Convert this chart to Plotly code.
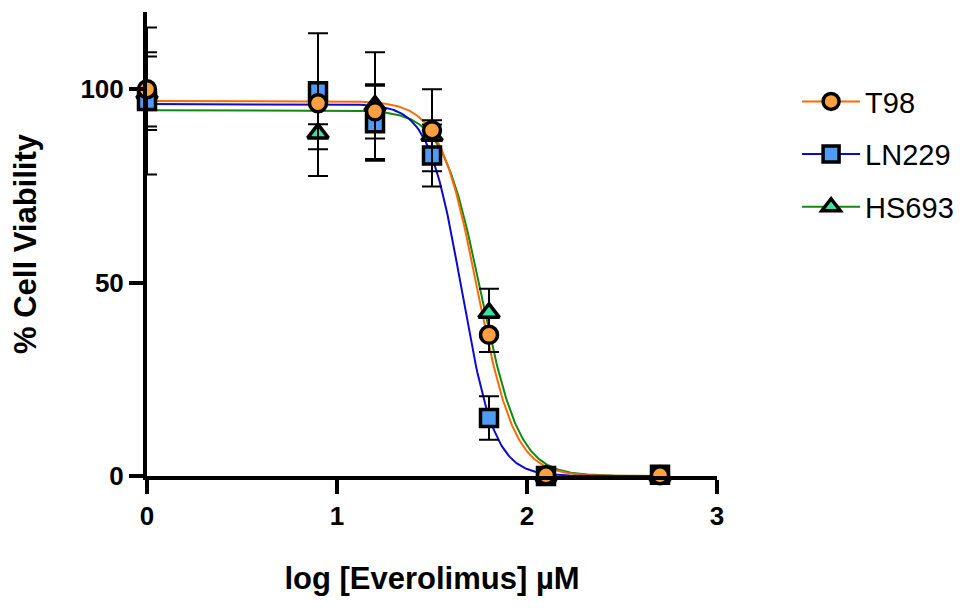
import numpy as np
import plotly.graph_objects as go

# ---- data ----
log_conc = [0, 0.9, 1.2, 1.5, 1.8, 2.1, 2.7]

t98_mean = [100, 96.4, 94.3, 89.4, 36.5, 0.2, 0.2]
t98_err = [9.6, 5.4, 7.0, 10.6, 4.4, 0, 0]

ln229_mean = [97, 99.5, 91.2, 82.9, 15.0, 0.0, 0.3]
ln229_err = [19, 15, 9.7, 8.0, 5.6, 0, 0]

hs693_mean = [99, 88.6, 95.8, 88.0, 42.2, 0.0, 0.0]
hs693_err = [9.5, 11, 13.8, 4.0, 6.2, 0, 0]

# four-parameter logistic fit parameters (top, bottom, logIC50, hill)
t98_fit = dict(top=97.0, bottom=0.0, logic50=1.738, hill=4.4)
ln229_fit = dict(top=96.2, bottom=0.0, logic50=1.656, hill=5.0)
hs693_fit = dict(top=94.6, bottom=0.0, logic50=1.758, hill=4.3)

series_names = ["T98", "LN229", "HS693"]
line_colors = {"T98": "#ff6a00", "LN229": "#0a0ad0", "HS693": "#118a11"}
fill_colors = {"T98": "#ffa040", "LN229": "#4f9bf5", "HS693": "#3de0a0"}
symbols = {"T98": "circle", "LN229": "square", "HS693": "triangle-up"}
msize = {"T98": 17, "LN229": 17, "HS693": 18}

data = {
    "T98": (t98_mean, t98_err, t98_fit),
    "LN229": (ln229_mean, ln229_err, ln229_fit),
    "HS693": (hs693_mean, hs693_err, hs693_fit),
}


def four_pl(x, p):
    x = np.asarray(x)
    return p["bottom"] + (p["top"] - p["bottom"]) / (1 + 10 ** ((x - p["logic50"]) * p["hill"]))


fig = go.Figure()

# fitted curves (behind the points)
xfit = np.linspace(min(log_conc), max(log_conc), 400)
for name in ["HS693", "T98", "LN229"]:
    p = data[name][2]
    fig.add_trace(go.Scatter(
        x=xfit, y=four_pl(xfit, p), mode="lines",
        line=dict(color=line_colors[name], width=2),
        showlegend=False, hoverinfo="skip", cliponaxis=False,
    ))

# data points with error bars
for name in ["HS693", "LN229", "T98"]:
    mean, err, _ = data[name]
    fig.add_trace(go.Scatter(
        x=log_conc, y=mean, mode="markers",
        marker=dict(symbol=symbols[name], size=msize[name], color=fill_colors[name],
                    line=dict(color="black", width=3.5)),
        error_y=dict(type="data", array=err, color="black", thickness=2, width=10),
        showlegend=False, cliponaxis=False,
    ))

# legend entries (line + marker)
for rank, name in enumerate(series_names):
    fig.add_trace(go.Scatter(
        x=[None], y=[None], mode="lines+markers", name=name,
        line=dict(color=line_colors[name], width=2),
        marker=dict(symbol=symbols[name], size=16, color=fill_colors[name],
                    line=dict(color="black", width=3.5)),
        legendgroup=name, legendrank=rank + 1,
    ))

tick_font = dict(family="Liberation Sans, Arial", size=26, color="black", weight="bold")
title_font = dict(family="Liberation Sans, Arial", size=31, color="black", weight="bold")

fig.update_layout(
    width=956, height=600,
    margin=dict(l=139, r=247, t=4, b=132, autoexpand=False),
    paper_bgcolor="white", plot_bgcolor="white",
    showlegend=True,
    legend=dict(
        x=1.1405, y=0.862, xanchor="left", yanchor="top",
        font=dict(family="Liberation Sans, Arial", size=29, color="black"),
        tracegroupgap=12, itemwidth=58, bgcolor="rgba(0,0,0,0)",
    ),
    xaxis=dict(
        range=[0, 3], tickvals=[0, 1, 2, 3], ticktext=["0", "1", "2", "3"],
        showline=True, linecolor="black", linewidth=4,
        ticks="outside", ticklen=14, tickwidth=4, tickcolor="black",
        tickfont=tick_font, showgrid=False, zeroline=False, automargin=False,
        title=dict(text="log [Everolimus] µM", font=title_font, standoff=38),
    ),
    yaxis=dict(
        range=[0, 120], tickvals=[0, 50, 100], ticktext=["0", "50", "100"],
        showline=True, linecolor="black", linewidth=4,
        ticks="outside", ticklen=14, tickwidth=4, tickcolor="black",
        tickfont=tick_font, showgrid=False, zeroline=False, automargin=False,
        title=dict(text="% Cell Viability", font=title_font, standoff=36),
    ),
)

fig.write_html("out.html")
